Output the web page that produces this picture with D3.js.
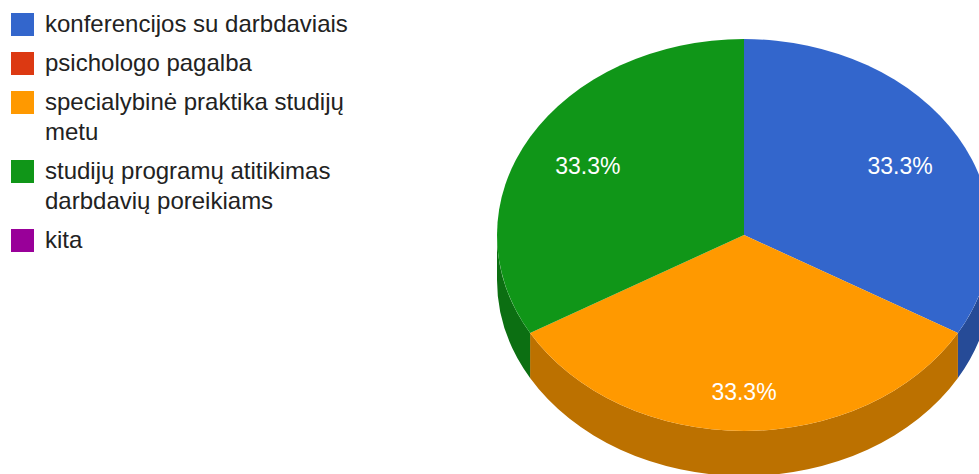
<!DOCTYPE html>
<html>
<head>
<meta charset="utf-8">
<script src="https://cdn.jsdelivr.net/npm/d3@7"></script>
<style>
  html, body { margin: 0; padding: 0; background: #fff; }
  svg { display: block; font-family: Arial, "Liberation Sans", sans-serif; }
</style>
</head>
<body>
<svg id="chart" width="979" height="474"></svg>
<script>
// Survey answers and how many respondents picked each one
const categories = [
  ["konferencijos su darbdaviais"],
  ["psichologo pagalba"],
  ["specialybinė praktika studijų", "metu"],
  ["studijų programų atitikimas", "darbdavių poreikiams"],
  ["kita"]
];
const values = [1, 0, 1, 1, 0];
const colors = ["#3366cc", "#dc3912", "#ff9900", "#109618", "#990099"];

const svg = d3.select("#chart");

// ---- 3D pie geometry ----
const cx = 744, cy = 235;      // centre of the top face
const rx = 247, ry = 196;      // radii of the top ellipse
const depth = 45;              // thickness of the pie

const total = d3.sum(values);
const pct = d3.format(".1%");

const pie = d3.pie().sort(null).value(d => d.value);
const slices = pie(values.map((v, i) => ({ value: v, i })))
  .filter(s => s.data.value > 0);

const pt = (a, dy = 0) => [cx + rx * Math.sin(a), cy - ry * Math.cos(a) + dy];
const side = c => d3.rgb(c).darker(0.85).toString();

// side walls: only the front half (angles between PI/2 and 3PI/2) is visible
const sideG = svg.append("g");
slices.forEach(s => {
  const a0 = Math.max(s.startAngle, Math.PI / 2);
  const a1 = Math.min(s.endAngle, 3 * Math.PI / 2);
  if (a1 <= a0) return;
  const p0 = pt(a0), p1 = pt(a1), q1 = pt(a1, depth), q0 = pt(a0, depth);
  const large = (a1 - a0) > Math.PI ? 1 : 0;
  const d = `M${p0}A${rx},${ry} 0 ${large} 1 ${p1}L${q1}` +
            `A${rx},${ry} 0 ${large} 0 ${q0}Z`;
  sideG.append("path").attr("d", d).attr("fill", side(colors[s.data.i]));
});

// top face: circular arcs squashed into an ellipse
const arc = d3.arc().innerRadius(0).outerRadius(rx);
svg.append("g")
  .attr("transform", `translate(${cx},${cy}) scale(1,${ry / rx})`)
  .selectAll("path")
  .data(slices)
  .join("path")
  .attr("d", arc)
  .attr("fill", d => colors[d.data.i]);

// percentage labels
const lfx = 0.73, lfy = 0.77;
svg.append("g")
  .selectAll("text")
  .data(slices)
  .join("text")
  .attr("x", d => cx + rx * lfx * Math.sin((d.startAngle + d.endAngle) / 2))
  .attr("y", d => cy - ry * lfy * Math.cos((d.startAngle + d.endAngle) / 2) + 6)
  .attr("dy", "0.35em")
  .attr("text-anchor", "middle")
  .attr("fill", "#ffffff")
  .attr("font-size", 23)
  .text(d => pct(d.data.value / total));

// ---- legend ----
const legend = svg.append("g");
const lineH = 30, itemGap = 39;
let base = 32;
categories.forEach((lines, i) => {
  legend.append("rect")
    .attr("x", 11).attr("y", base - 19)
    .attr("width", 23).attr("height", 23)
    .attr("fill", colors[i]);
  const t = legend.append("text")
    .attr("x", 45).attr("y", base)
    .attr("font-size", 24)
    .attr("fill", "#222222");
  lines.forEach((ln, j) => {
    t.append("tspan").attr("x", 45).attr("y", base + j * lineH).text(ln);
  });
  base += (lines.length - 1) * lineH + itemGap;
});
</script>
</body>
</html>
